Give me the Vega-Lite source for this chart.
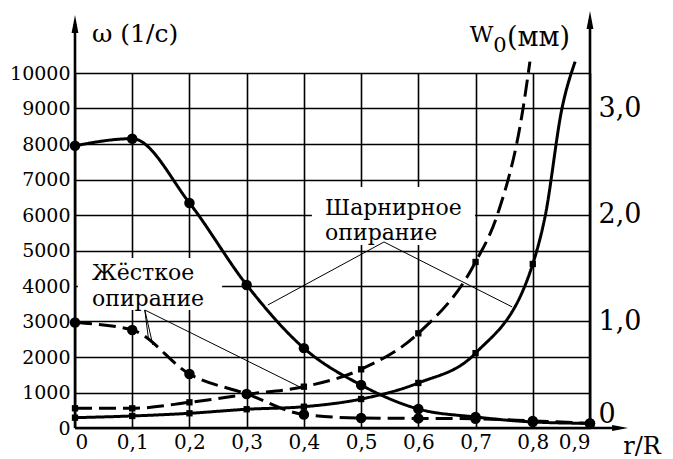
{
  "$schema": "https://vega.github.io/schema/vega-lite/v6.json",
  "width": 515,
  "height": 355,
  "autosize": "none",
  "padding": {"left": 75, "top": 73, "right": 83, "bottom": 31},
  "background": "white",
  "config": {
    "view": {"stroke": null},
    "font": "DejaVu Serif",
    "text": {"font": "DejaVu Serif"},
    "axis": {"labelFont": "DejaVu Serif", "labelColor": "black", "title": null, "labelOverlap": false, "labelBound": false}
  },
  "datasets": {
    "omega": [
      {"r": 0, "omega": 7950, "support": "hinged"},
      {"r": 0.1, "omega": 8150, "support": "hinged"},
      {"r": 0.2, "omega": 6340, "support": "hinged"},
      {"r": 0.3, "omega": 4030, "support": "hinged"},
      {"r": 0.4, "omega": 2250, "support": "hinged"},
      {"r": 0.5, "omega": 1210, "support": "hinged"},
      {"r": 0.6, "omega": 535, "support": "hinged"},
      {"r": 0.7, "omega": 310, "support": "hinged"},
      {"r": 0.8, "omega": 170, "support": "hinged"},
      {"r": 0.9, "omega": 130, "support": "hinged"},
      {"r": 0, "omega": 2970, "support": "rigid"},
      {"r": 0.1, "omega": 2760, "support": "rigid"},
      {"r": 0.2, "omega": 1520, "support": "rigid"},
      {"r": 0.3, "omega": 960, "support": "rigid"},
      {"r": 0.4, "omega": 380, "support": "rigid"},
      {"r": 0.5, "omega": 280, "support": "rigid"},
      {"r": 0.6, "omega": 270, "support": "rigid"},
      {"r": 0.7, "omega": 260, "support": "rigid"},
      {"r": 0.8, "omega": 200, "support": "rigid"},
      {"r": 0.9, "omega": 130, "support": "rigid"}
    ],
    "w0": [
      {"r": 0, "w0": 0.097, "support": "hinged"},
      {"r": 0.1, "w0": 0.113, "support": "hinged"},
      {"r": 0.2, "w0": 0.138, "support": "hinged"},
      {"r": 0.3, "w0": 0.176, "support": "hinged"},
      {"r": 0.4, "w0": 0.2, "support": "hinged"},
      {"r": 0.5, "w0": 0.272, "support": "hinged"},
      {"r": 0.6, "w0": 0.423, "support": "hinged"},
      {"r": 0.7, "w0": 0.703, "support": "hinged"},
      {"r": 0.8, "w0": 1.54, "support": "hinged"},
      {"r": 0.822, "w0": 2.0, "support": "hinged"},
      {"r": 0.851, "w0": 3.0, "support": "hinged"},
      {"r": 0.874, "w0": 3.44, "support": "hinged"},
      {"r": 0, "w0": 0.185, "support": "rigid"},
      {"r": 0.1, "w0": 0.185, "support": "rigid"},
      {"r": 0.2, "w0": 0.241, "support": "rigid"},
      {"r": 0.3, "w0": 0.316, "support": "rigid"},
      {"r": 0.4, "w0": 0.388, "support": "rigid"},
      {"r": 0.5, "w0": 0.551, "support": "rigid"},
      {"r": 0.6, "w0": 0.889, "support": "rigid"},
      {"r": 0.7, "w0": 1.559, "support": "rigid"},
      {"r": 0.738, "w0": 2.0, "support": "rigid"},
      {"r": 0.783, "w0": 3.0, "support": "rigid"},
      {"r": 0.795, "w0": 3.44, "support": "rigid"}
    ],
    "leaders": [
      {"x": 0.54, "y": 5240, "x2": 0.337, "y2": 3465},
      {"x": 0.54, "y": 5240, "x2": 0.764, "y2": 3410},
      {"x": 0.122, "y": 3324, "x2": 0.128, "y2": 2563},
      {"x": 0.122, "y": 3324, "x2": 0.136, "y2": 2338},
      {"x": 0.122, "y": 3324, "x2": 0.393, "y2": 1155}
    ],
    "boxes": [
      {"x": 0.414, "x2": 0.699, "y": 5155, "y2": 6790},
      {"x": 0.005, "x2": 0.257, "y": 3324, "y2": 4789}
    ],
    "axislines": [
      {"x": 0, "x2": 0, "y": 0, "y2": 11380},
      {"x": 0.9, "x2": 0.9, "y": 0, "y2": 11490},
      {"x": 0, "x2": 0.95, "y": 0, "y2": 0}
    ],
    "uparrows": [
      {"x": 0, "y": 11380},
      {"x": 0.9, "y": 11490}
    ],
    "rightarrows": [
      {"x": 0.9526, "y": 0}
    ],
    "notes": [
      {"text": "Шарнирное", "x": 0.437, "y": 6000},
      {"text": "опирание", "x": 0.437, "y": 5296},
      {"text": "Жёсткое", "x": 0.0297, "y": 4169},
      {"text": "опирание", "x": 0.0297, "y": 3437}
    ],
    "titles": [
      {"text": "ω (1/с)", "x": 0.0297, "y": 10873}
    ],
    "wtitle": [
      {"text": "W", "x": 0.69, "y": 10873}
    ],
    "wunit": [
      {"text": "(мм)", "x": 0.755, "y": 10761}
    ],
    "subs": [
      {"text": "0", "x": 0.731, "y": 10592}
    ],
    "xtitle": [
      {"text": "r/R", "x": 0.958, "y": -732}
    ]
  },
  "layer": [
    {
      "data": {"name": "boxes"},
      "mark": {"type": "rect", "fill": "white", "stroke": null, "clip": false},
      "encoding": {
        "x": {"field": "x", "type": "quantitative", "scale": {"domain": [0, 0.9], "nice": false},
          "axis": {
            "values": [0, 0.1, 0.2, 0.3, 0.4, 0.5, 0.6, 0.7, 0.8, 0.9],
            "labelExpr": "datum.value == 0 ? '0' : replace(format(datum.value, '.1f'), '.', ',')",
            "labelFont": "DejaVu Serif",
            "labelFontSize": 20,
            "labelOverlap": false,
            "labelPadding": 4,
            "ticks": false,
            "domain": false,
            "grid": true,
            "gridColor": "black",
            "gridOpacity": 1,
            "gridWidth": 1.6
          }},
        "x2": {"field": "x2"},
        "y": {"field": "y", "type": "quantitative", "scale": {"domain": [0, 10000], "nice": false},
          "axis": {
            "orient": "left",
            "values": [0, 1000, 2000, 3000, 4000, 5000, 6000, 7000, 8000, 9000, 10000],
            "format": "d",
            "labelFont": "DejaVu Serif",
            "labelFontSize": 19,
            "labelOverlap": false,
            "labelPadding": 5,
            "ticks": false,
            "domain": false,
            "grid": true,
            "gridColor": "black",
            "gridOpacity": 1,
            "gridWidth": 1.6
          }},
        "y2": {"field": "y2"}
      }
    },
    {
      "data": {"name": "omega"},
      "mark": {"type": "line", "interpolate": "monotone", "strokeWidth": 3, "color": "black", "clip": false},
      "encoding": {
        "x": {"field": "r", "type": "quantitative"},
        "y": {"field": "omega", "type": "quantitative", "scale": {"domain": [0, 10000], "nice": false}, "axis": null},
        "detail": {"field": "support"},
        "strokeDash": {"field": "support", "type": "nominal", "legend": null,
          "scale": {"domain": ["hinged", "rigid"], "range": [[1, 0], [17, 7]]}}
      }
    },
    {
      "data": {"name": "omega"},
      "mark": {"type": "point", "shape": "circle", "filled": true, "color": "black", "size": 110, "opacity": 1, "clip": false},
      "encoding": {
        "x": {"field": "r", "type": "quantitative"},
        "y": {"field": "omega", "type": "quantitative", "scale": {"domain": [0, 10000], "nice": false}, "axis": null}
      }
    },
    {
      "data": {"name": "w0"},
      "mark": {"type": "line", "interpolate": "monotone", "strokeWidth": 3, "color": "black", "clip": false},
      "encoding": {
        "x": {"field": "r", "type": "quantitative"},
        "y": {"field": "w0", "type": "quantitative", "scale": {"domain": [0, 3.33333], "nice": false},
          "axis": {
            "orient": "right",
            "values": [0, 1, 2, 3],
            "labelExpr": "datum.value == 0 ? '0' : replace(format(datum.value, '.1f'), '.', ',')",
            "labelFont": "DejaVu Serif",
            "labelFontSize": 27,
            "labelOverlap": false,
            "labelPadding": 8,
            "labelBaseline": {"condition": {"test": "datum.value == 0", "value": "bottom"}, "value": "middle"},
            "ticks": false,
            "domain": false,
            "grid": false
          }},
        "detail": {"field": "support"},
        "strokeDash": {"field": "support", "type": "nominal", "legend": null,
          "scale": {"domain": ["hinged", "rigid"], "range": [[1, 0], [17, 7]]}}
      }
    },
    {
      "data": {"name": "w0"},
      "transform": [{"filter": "abs(datum.r * 10 - round(datum.r * 10)) < 0.001"}],
      "mark": {"type": "point", "shape": "square", "filled": true, "color": "black", "size": 40, "opacity": 1, "clip": false},
      "encoding": {
        "x": {"field": "r", "type": "quantitative"},
        "y": {"field": "w0", "type": "quantitative", "scale": {"domain": [0, 3.33333], "nice": false}, "axis": null}
      }
    },
    {
      "data": {"name": "leaders"},
      "mark": {"type": "rule", "color": "black", "strokeWidth": 1, "clip": false},
      "encoding": {
        "x": {"field": "x", "type": "quantitative"},
        "x2": {"field": "x2"},
        "y": {"field": "y", "type": "quantitative", "scale": {"domain": [0, 10000], "nice": false}, "axis": null},
        "y2": {"field": "y2"}
      }
    },
    {
      "data": {"name": "axislines"},
      "mark": {"type": "rule", "color": "black", "strokeWidth": 2.6, "clip": false},
      "encoding": {
        "x": {"field": "x", "type": "quantitative"},
        "x2": {"field": "x2"},
        "y": {"field": "y", "type": "quantitative", "scale": {"domain": [0, 10000], "nice": false}, "axis": null},
        "y2": {"field": "y2"}
      }
    },
    {
      "data": {"name": "uparrows"},
      "mark": {"type": "point", "shape": "M0,-1L0.38,1L-0.38,1Z", "filled": true, "color": "black", "size": 324, "opacity": 1, "clip": false},
      "encoding": {
        "x": {"field": "x", "type": "quantitative"},
        "y": {"field": "y", "type": "quantitative", "scale": {"domain": [0, 10000], "nice": false}, "axis": null}
      }
    },
    {
      "data": {"name": "rightarrows"},
      "mark": {"type": "point", "shape": "M1,0L-1,0.38L-1,-0.38Z", "filled": true, "color": "black", "size": 256, "opacity": 1, "clip": false},
      "encoding": {
        "x": {"field": "x", "type": "quantitative"},
        "y": {"field": "y", "type": "quantitative", "scale": {"domain": [0, 10000], "nice": false}, "axis": null}
      }
    },
    {
      "data": {"name": "notes"},
      "mark": {"type": "text", "align": "left", "baseline": "alphabetic", "font": "DejaVu Serif", "fontSize": 22, "color": "black", "clip": false},
      "encoding": {
        "x": {"field": "x", "type": "quantitative"},
        "y": {"field": "y", "type": "quantitative", "scale": {"domain": [0, 10000], "nice": false}, "axis": null},
        "text": {"field": "text"}
      }
    },
    {
      "data": {"name": "titles"},
      "mark": {"type": "text", "align": "left", "baseline": "alphabetic", "font": "DejaVu Serif", "fontSize": 25, "color": "black", "clip": false},
      "encoding": {
        "x": {"field": "x", "type": "quantitative"},
        "y": {"field": "y", "type": "quantitative", "scale": {"domain": [0, 10000], "nice": false}, "axis": null},
        "text": {"field": "text"}
      }
    },
    {
      "data": {"name": "wtitle"},
      "mark": {"type": "text", "align": "left", "baseline": "alphabetic", "font": "DejaVu Serif", "fontSize": 23, "color": "black", "clip": false},
      "encoding": {
        "x": {"field": "x", "type": "quantitative"},
        "y": {"field": "y", "type": "quantitative", "scale": {"domain": [0, 10000], "nice": false}, "axis": null},
        "text": {"field": "text"}
      }
    },
    {
      "data": {"name": "wunit"},
      "mark": {"type": "text", "align": "left", "baseline": "alphabetic", "font": "DejaVu Serif", "fontSize": 27, "color": "black", "clip": false},
      "encoding": {
        "x": {"field": "x", "type": "quantitative"},
        "y": {"field": "y", "type": "quantitative", "scale": {"domain": [0, 10000], "nice": false}, "axis": null},
        "text": {"field": "text"}
      }
    },
    {
      "data": {"name": "subs"},
      "mark": {"type": "text", "align": "left", "baseline": "alphabetic", "font": "DejaVu Serif", "fontSize": 21, "color": "black", "clip": false},
      "encoding": {
        "x": {"field": "x", "type": "quantitative"},
        "y": {"field": "y", "type": "quantitative", "scale": {"domain": [0, 10000], "nice": false}, "axis": null},
        "text": {"field": "text"}
      }
    },
    {
      "data": {"name": "xtitle"},
      "mark": {"type": "text", "align": "left", "baseline": "alphabetic", "font": "DejaVu Serif", "fontSize": 24, "color": "black", "clip": false},
      "encoding": {
        "x": {"field": "x", "type": "quantitative"},
        "y": {"field": "y", "type": "quantitative", "scale": {"domain": [0, 10000], "nice": false}, "axis": null},
        "text": {"field": "text"}
      }
    }
  ],
  "resolve": {"scale": {"y": "independent", "strokeDash": "shared"}}
}
